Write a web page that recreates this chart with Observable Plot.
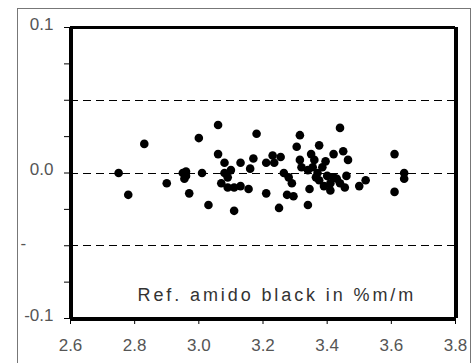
<!DOCTYPE html>
<html>
<head>
<meta charset="utf-8">
<script src="https://cdn.jsdelivr.net/npm/d3@7"></script>
<script src="https://cdn.jsdelivr.net/npm/@observablehq/plot@0.6"></script>
<style>
  html, body { margin: 0; padding: 0; background: #fff; overflow: hidden; }
  #wrap { position: relative; width: 475px; height: 363px; }
  #border { position: absolute; left: 17px; top: 8px; width: 452px; height: 400px; border: 1px solid #777; pointer-events: none; }
  svg { position: absolute; left: 0; top: 0; font-family: "Liberation Sans", Arial, sans-serif; }
</style>
</head>
<body>
<div id="wrap"><div id="border"></div></div>
<script>
const xValues = [2.75, 2.78, 2.83, 2.90, 2.95, 2.955, 2.96, 2.97, 3.00, 3.01, 3.03, 3.06, 3.06, 3.08, 3.08, 3.10, 3.09, 3.07, 3.09, 3.11, 3.13, 3.11, 3.13, 3.17, 3.16, 3.155, 3.18, 3.21, 3.21, 3.23, 3.255, 3.235, 3.265, 3.28, 3.29, 3.25, 3.275, 3.295, 3.315, 3.305, 3.32, 3.34, 3.355, 3.35, 3.36, 3.37, 3.375, 3.375, 3.385, 3.395, 3.40, 3.41, 3.41, 3.42, 3.43, 3.44, 3.455, 3.46, 3.42, 3.44, 3.45, 3.465, 3.345, 3.34, 3.50, 3.52, 3.61, 3.64, 3.64, 3.61, 3.315, 3.39, 3.365, 2.96];
const yValues = [0.000, -0.015, 0.020, -0.007, 0.000, -0.004, -0.002, -0.014, 0.024, 0.000, -0.022, 0.033, 0.013, 0.007, 0.000, 0.002, -0.003, -0.007, -0.010, -0.010, -0.009, -0.026, 0.007, 0.010, 0.003, -0.011, 0.027, 0.007, -0.014, 0.012, 0.011, 0.007, 0.000, -0.003, -0.007, -0.024, -0.015, -0.016, 0.026, 0.018, 0.004, 0.002, 0.004, 0.013, 0.009, 0.000, -0.005, 0.019, 0.004, 0.008, -0.002, -0.007, -0.012, -0.003, -0.004, -0.007, -0.010, -0.002, 0.013, 0.031, 0.015, 0.009, -0.011, -0.022, -0.009, -0.005, 0.013, 0.000, -0.004, -0.013, 0.009, -0.009, -0.003, 0.001];
const xTicks = [2.6, 2.8, 3.0, 3.2, 3.4, 3.6, 3.8];
const xTickLabels = ["2.6", "2.8", "3.0", "3.2", "3.4", "3.6", "3.8"];
const yTicks = [-0.1, -0.075, -0.05, -0.025, 0, 0.025, 0.05, 0.075, 0.1];
const yTickLabels = ["-0.1", "", "", "", "0.0", "", "", "", "0.1"];
const strayLabelValue = [-0.05];
const strayLabelText = ["-"];
const refLines = [-0.05, 0, 0.05];
const annotation = ["Ref. amido black in %m/m"];

const points = xValues.map((x, i) => ({x, y: yValues[i]}));

const plot = Plot.plot({
  width: 475,
  height: 363,
  marginLeft: 70,
  marginTop: 27,
  marginRight: 20,
  marginBottom: 45,
  style: {background: "transparent", fontFamily: "'Liberation Sans', Arial, sans-serif"},
  x: {domain: [2.6, 3.8]},
  y: {domain: [-0.1, 0.1]},
  marks: [
    Plot.ruleY(refLines, {stroke: "#000", strokeWidth: 1, strokeDasharray: "8,5"}),
    Plot.dot(points, {x: "x", y: "y", r: 4.3, fill: "#000", stroke: "none"}),
    Plot.ruleY([0.1], {stroke: "#000", strokeWidth: 3}),
    Plot.ruleX([3.8], {stroke: "#000", strokeWidth: 4}),
    Plot.ruleX([2.6], {stroke: "#000", strokeWidth: 4}),
    Plot.ruleY([-0.1], {stroke: "#000", strokeWidth: 4}),
    Plot.axisX(xTicks, {tickSize: 6, tickPadding: 14, fontSize: 17, stroke: "#000", strokeWidth: 1, fill: "#555", label: null,
      tickFormat: d => xTickLabels[xTicks.indexOf(d)]}),
    Plot.axisY(yTicks, {tickSize: 6, tickPadding: 11, fontSize: 17, stroke: "#000", strokeWidth: 1, fill: "#555", label: null,
      tickFormat: d => yTickLabels[yTicks.indexOf(d)]}),
    Plot.text(strayLabelValue, {x: () => 2.6, y: d => d, text: (d, i) => strayLabelText[i], textAnchor: "start", dx: -50, dy: -2, fontSize: 17, fill: "#555"}),
    Plot.text(annotation, {frameAnchor: "bottom-left", textAnchor: "start", lineAnchor: "middle", dx: 67, dy: -23, fontSize: 18, fill: "#333"})
  ]
});
document.getElementById("wrap").appendChild(plot);
d3.select(plot).selectAll("line").attr("shape-rendering", "crispEdges");
d3.select(plot).selectAll('g[aria-label="y-axis tick label"] text').attr("dy", "-0.18em");
d3.select(plot).selectAll("text")
  .filter(function() { return this.textContent === annotation[0]; })
  .attr("letter-spacing", "2.9px")
  .style("letter-spacing", "2.9px");
</script>
</body>
</html>
